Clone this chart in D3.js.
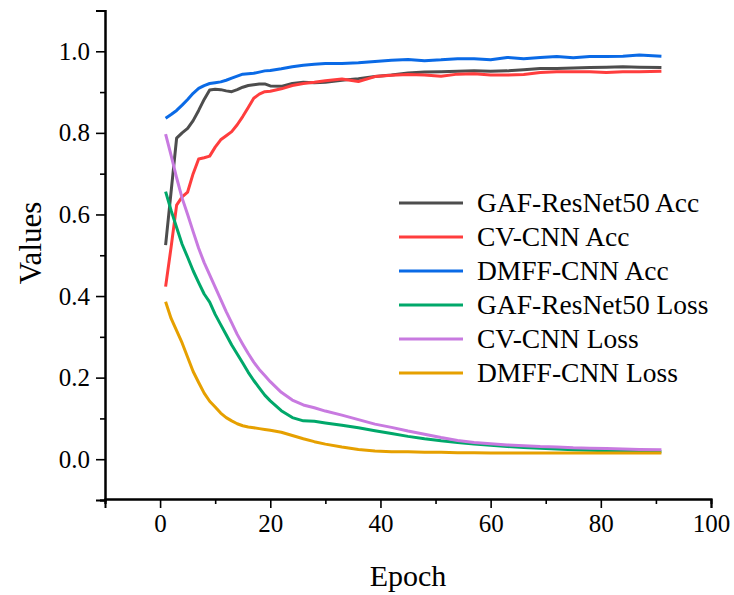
<!DOCTYPE html>
<html lang="en">
<head>
  <meta charset="UTF-8">
  <title>Accuracy and loss</title>
  <script src="https://d3js.org/d3.v7.min.js"></script>
</head>
<body style="margin: 0; overflow: hidden; background: #fff;">

<script>
  const epochs = [1,2,3,4,5,6,7,8,9,10,11,12,13,14,15,16,17,18,19,20,22,24,26,28,30,33,36,39,42,45,48,51,54,57,60,63,66,69,72,75,78,81,84,87,91];

  const gafAcc = [0.525,0.656,0.787,0.800,0.811,0.830,0.855,0.882,0.905,0.907,0.906,0.903,0.901,0.906,0.912,0.916,0.918,0.920,0.920,0.915,0.914,0.921,0.924,0.923,0.924,0.929,0.933,0.938,0.942,0.947,0.949,0.950,0.951,0.952,0.951,0.952,0.955,0.958,0.958,0.959,0.960,0.961,0.962,0.961,0.960];
  const cvAcc = [0.423,0.520,0.623,0.643,0.655,0.700,0.736,0.739,0.743,0.765,0.783,0.793,0.803,0.820,0.840,0.862,0.885,0.895,0.901,0.902,0.908,0.916,0.921,0.924,0.928,0.932,0.926,0.938,0.941,0.943,0.942,0.939,0.944,0.945,0.942,0.942,0.943,0.948,0.950,0.950,0.950,0.948,0.950,0.950,0.951];
  const dmffAcc = [0.836,0.845,0.855,0.868,0.882,0.897,0.909,0.916,0.921,0.923,0.925,0.929,0.934,0.939,0.944,0.945,0.946,0.949,0.952,0.953,0.957,0.962,0.966,0.968,0.970,0.970,0.972,0.975,0.978,0.980,0.977,0.979,0.982,0.982,0.979,0.985,0.982,0.985,0.987,0.984,0.987,0.987,0.988,0.991,0.988];
  const gafLoss = [0.656,0.610,0.568,0.527,0.495,0.462,0.433,0.405,0.385,0.355,0.330,0.305,0.280,0.258,0.236,0.213,0.193,0.175,0.157,0.143,0.119,0.102,0.094,0.093,0.089,0.083,0.077,0.070,0.063,0.056,0.050,0.045,0.041,0.037,0.034,0.031,0.029,0.027,0.025,0.023,0.022,0.021,0.020,0.019,0.018];
  const cvLoss = [0.797,0.745,0.690,0.640,0.600,0.558,0.517,0.482,0.452,0.422,0.392,0.362,0.334,0.306,0.282,0.259,0.238,0.220,0.205,0.190,0.164,0.145,0.133,0.126,0.118,0.108,0.097,0.086,0.078,0.069,0.061,0.053,0.046,0.041,0.038,0.035,0.033,0.031,0.030,0.028,0.027,0.026,0.025,0.024,0.023];
  const dmffLoss = [0.386,0.345,0.315,0.285,0.250,0.215,0.188,0.162,0.142,0.128,0.113,0.102,0.094,0.087,0.082,0.079,0.077,0.075,0.073,0.071,0.066,0.058,0.050,0.043,0.037,0.030,0.024,0.020,0.018,0.018,0.017,0.017,0.016,0.016,0.015,0.015,0.015,0.015,0.015,0.015,0.015,0.015,0.015,0.015,0.015];

  const seriesNames = ['GAF-ResNet50 Acc','CV-CNN Acc','DMFF-CNN Acc','GAF-ResNet50 Loss','CV-CNN Loss','DMFF-CNN Loss'];
  const seriesValues = [gafAcc, cvAcc, dmffAcc, gafLoss, cvLoss, dmffLoss];
  const colors = ['#4d4d4d','#ff3d3d','#0a6ae6','#00a86a','#c87ae0','#e6a000'];

  const xMajor = [0,20,40,60,80,100];
  const xMinor = [-10,10,30,50,70,90];
  const yMajor = [0.0,0.2,0.4,0.6,0.8,1.0];
  const yMinor = [-0.1,0.1,0.3,0.5,0.7,0.9,1.1];

  const font = '"Times New Roman", "Liberation Serif", serif';

  const svg = d3.select('body').append('svg')
    .attr('width', 734)
    .attr('height', 595);

  const x = d3.scaleLinear().domain([-10, 100]).range([105, 711]);
  const y = d3.scaleLinear().domain([-0.1, 1.1]).range([500, 10.5]);

  //Axes: major ticks with labels, minor ticks without
  const xAxisG = svg.append('g').attr('transform', 'translate(0,499)');
  xAxisG.append('g').call(d3.axisBottom(x).tickValues(xMinor).tickSize(5).tickFormat(''));
  xAxisG.append('g').call(d3.axisBottom(x).tickValues(xMajor).tickSize(9).tickPadding(6).tickFormat(d3.format('d')));

  const yAxisG = svg.append('g').attr('transform', 'translate(105,0)');
  yAxisG.append('g').call(d3.axisLeft(y).tickValues(yMinor).tickSize(5).tickFormat(''));
  yAxisG.append('g').call(d3.axisLeft(y).tickValues(yMajor).tickSize(9).tickPadding(6).tickFormat(d3.format('.1f')));

  svg.selectAll('.domain').attr('stroke', '#000').attr('stroke-width', 2);
  svg.selectAll('.tick line').attr('stroke', '#000').attr('stroke-width', 1.6);
  svg.selectAll('.tick text')
    .style('font-family', font)
    .attr('font-size', 25)
    .attr('fill', '#000');

  //Axis titles
  svg.append('text')
    .attr('x', 408).attr('y', 586)
    .attr('text-anchor', 'middle')
    .style('font-family', font).attr('font-size', 30)
    .text('Epoch');

  svg.append('text')
    .attr('transform', 'translate(41,243) rotate(-90)')
    .attr('text-anchor', 'middle')
    .style('font-family', font).attr('font-size', 31)
    .text('Values');

  //Lines
  const line = d3.line()
    .x((d, i) => x(epochs[i]))
    .y(d => y(d));

  seriesValues.forEach((vals, k) => {
    svg.append('path')
      .datum(vals)
      .attr('d', line)
      .attr('fill', 'none')
      .attr('stroke', colors[k])
      .attr('stroke-width', 3)
      .attr('stroke-linejoin', 'round');
  });

  //Legend
  const legend = svg.append('g').attr('transform', 'translate(399,203)');
  seriesNames.forEach((name, k) => {
    const row = legend.append('g').attr('transform', `translate(0,${k * 34})`);
    row.append('line')
      .attr('x1', 0).attr('x2', 64)
      .attr('y1', 0).attr('y2', 0)
      .attr('stroke', colors[k])
      .attr('stroke-width', 3);
    row.append('text')
      .attr('x', 78).attr('y', 9)
      .style('font-family', font).attr('font-size', 27.5)
      .text(name);
  });
</script>

</body>
</html>
